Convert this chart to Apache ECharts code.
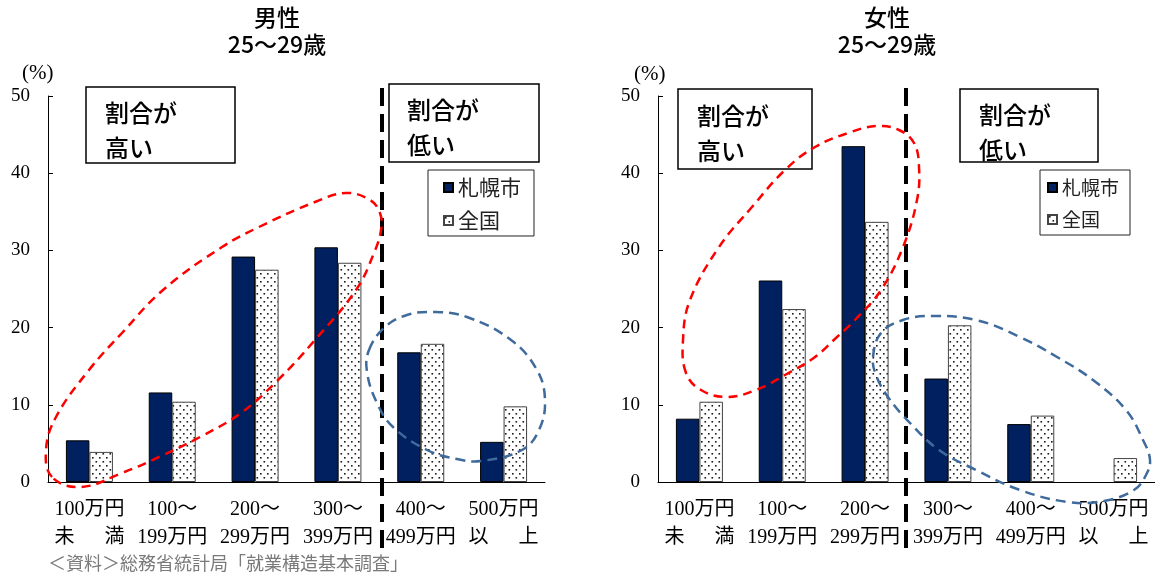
<!DOCTYPE html>
<html>
<head>
<meta charset="utf-8">
<script src="https://cdn.jsdelivr.net/npm/echarts@6/dist/echarts.min.js"></script>
<style>
html,body{margin:0;padding:0;background:#fff;}
#main{width:1155px;height:576px;}
</style>
</head>
<body>
<div id="main"></div>
<script>
// ---- data ----
var categories = ['100万円\n未\u3000\u2002満', '100～\n199万円', '200～\n299万円', '300～\n399万円', '400～\n499万円', '500万円\n以\u3000\u2002上'];
var seriesNames = ['札幌市', '全国'];
var maleSapporo = [5.4, 11.6, 29.2, 30.4, 16.8, 5.2];
var maleZenkoku = [3.9, 10.4, 27.5, 28.4, 17.9, 9.8];
var femaleSapporo = [8.2, 26.1, 43.5, 13.4, 7.5, null];
var femaleZenkoku = [10.4, 22.4, 33.7, 20.3, 8.6, 3.1];
var yTicks = [0, 10, 20, 30, 40, 50];
var titles = ['男性\n25～29歳', '女性\n25～29歳'];
var boxTextHigh = '割合が\n高い';
var boxTextLow = '割合が\n低い';
var sourceText = '＜資料＞総務省統計局「就業構造基本調査」';

// ---- dotted pattern ----
var pc = document.createElement('canvas');
pc.width = 7; pc.height = 8;
var pctx = pc.getContext('2d');
pctx.fillStyle = '#ffffff'; pctx.fillRect(0, 0, 7, 8);
pctx.fillStyle = '#1a1a1a';
pctx.fillRect(1, 1, 1.6, 1.6);
pctx.fillRect(4.5, 5, 1.6, 1.6);
var dotPattern = {image: pc, repeat: 'repeat'};

var serif = "'Liberation Serif','Noto Sans CJK JP',serif";
var sans = "'Noto Sans CJK JP','Noto Sans',sans-serif";
var navy = '#00205F';

var chart = echarts.init(document.getElementById('main'), null, {renderer: 'canvas'});

function xAx(i) {
  return {
    type: 'category', gridIndex: i, data: categories,
    axisTick: {show: false},
    axisLine: {lineStyle: {color: '#000', width: 1}},
    axisLabel: {interval: 0, fontSize: 20, lineHeight: 28, margin: 14, color: '#000', fontFamily: serif}
  };
}
function yAx(i) {
  return {
    type: 'value', gridIndex: i, min: yTicks[0], max: yTicks[yTicks.length - 1], interval: 10,
    axisLine: {show: true, lineStyle: {color: '#000', width: 1}},
    axisTick: {show: true, inside: true, length: 5, lineStyle: {color: '#000'}},
    splitLine: {show: false},
    axisLabel: {fontSize: 19, margin: 18, color: '#000', fontFamily: serif}
  };
}
function barS(name, data, i, isPattern) {
  return {
    name: name, type: 'bar', xAxisIndex: i, yAxisIndex: i, data: data,
    barWidth: 23.5, barGap: '0%',
    itemStyle: isPattern ? {color: dotPattern, borderColor: '#444', borderWidth: 1}
                         : {color: navy, borderColor: '#000', borderWidth: 1}
  };
}

function poly(points, color, dash) {
  return {
    type: 'polygon', z: 100, silent: true,
    shape: {points: points, smooth: 0.4},
    style: {fill: null, stroke: color, lineWidth: 2.5, lineDash: dash}
  };
}
function box(x, y, w, h, text, tx, ty) {
  return [
    {type: 'rect', z: 90, shape: {x: x, y: y, width: w, height: h},
     style: {fill: '#fff', stroke: '#000', lineWidth: 1.5}},
    {type: 'text', z: 91, x: tx, y: ty,
     style: {text: text, font: '500 24px ' + sans, lineHeight: 35, fill: '#000',
             textAlign: 'left', textVerticalAlign: 'middle'}}
  ];
}
function vline(x, y1, y2) {
  return {type: 'line', z: 95, shape: {x1: x, y1: y1, x2: x, y2: y2},
          style: {stroke: '#000', lineWidth: 4, lineDash: [18, 8]}};
}
function txt(x, y, text, font, align, color, lh) {
  return {type: 'text', z: 92, x: x, y: y,
          style: {text: text, font: font, fill: color || '#000', textAlign: align || 'left',
                  textVerticalAlign: 'middle', lineHeight: lh || 0}};
}

var redLeft = [[52,477],[46,450],[56,417],[89,370],[122,333],[163,290],[222,247],[259,227],[315,202],[346,193],[370,200],[380,213],[381,230],[374,253],[356,290],[315,340],[278,380],[241,413],[200,437],[159,457],[122,473],[81,487]];
var blueLeft = [[369,350],[385,327],[407,315],[433,312],[467,317],[511,340],[537,370],[545,400],[539,430],[522,450],[481,461],[457,459],[427,450],[393,427],[377,403],[367,372]];
var redRight = [[686,373],[683,340],[690,300],[719,247],[752,207],[785,170],[815,147],[851,132],[877,126],[899,130],[914,143],[919,167],[917,200],[903,247],[881,290],[855,320],[837,337],[815,357],[785,375],[756,390],[727,397],[701,390]];
var blueRight = [[873,357],[881,333],[903,320],[932,316],[976,320],[1020,337],[1057,357],[1093,380],[1126,410],[1143,440],[1150,460],[1146,475],[1134,490],[1104,501],[1068,502],[1020,490],[976,470],[939,450],[910,423],[888,397],[876,375]];

var graphics = [];
graphics.push(txt(277, 30.5, titles[0], '500 23px ' + sans, 'center', '#000', 27));
graphics.push(txt(887, 30.5, titles[1], '500 23px ' + sans, 'center', '#000', 27));
graphics.push(txt(22, 73, '(%)', '21px ' + serif, 'left'));
graphics.push(txt(634, 74, '(%)', '21px ' + serif, 'left'));
graphics = graphics.concat(box(86, 87, 149, 76, boxTextHigh, 105, 130.5));
graphics = graphics.concat(box(389, 84, 150, 78, boxTextLow, 407, 127.5));
graphics = graphics.concat(box(678, 89, 134, 80, boxTextHigh, 697, 133.5));
graphics = graphics.concat(box(960, 89, 138, 73, boxTextLow, 979, 132.5));
graphics.push(vline(382, 88, 556));
graphics.push(vline(906, 88, 554));
graphics.push(poly(redLeft, '#FF0000', [9, 6]));
graphics.push(poly(blueLeft, '#3F6A9C', [10, 6]));
graphics.push(poly(redRight, '#FF0000', [9, 6]));
graphics.push(poly(blueRight, '#3F6A9C', [10, 6]));
graphics.push(txt(48, 565, sourceText, '18px ' + serif, 'left', '#7a7a7a'));

chart.setOption({
  animation: false,
  backgroundColor: '#fff',
  grid: [
    {left: 48, top: 96, width: 497, height: 386},
    {left: 658, top: 96, width: 497, height: 386}
  ],
  xAxis: [xAx(0), xAx(1)],
  yAxis: [yAx(0), yAx(1)],
  legend: [
    {left: 428, top: 170, orient: 'vertical', data: seriesNames, icon: 'rect',
     itemWidth: 9, itemHeight: 9, itemGap: 12, padding: [7, 13, 5, 15],
     borderColor: '#222', borderWidth: 1, selectedMode: false,
     textStyle: {fontSize: 21, fontFamily: sans, color: '#222'}},
    {left: 1040, top: 170, orient: 'vertical', data: seriesNames, icon: 'rect',
     itemWidth: 9, itemHeight: 9, itemGap: 13, padding: [8, 11, 6, 7],
     borderColor: '#222', borderWidth: 1, selectedMode: false,
     textStyle: {fontSize: 19, fontFamily: sans, color: '#222'}}
  ],
  series: [
    barS(seriesNames[0], maleSapporo, 0, false),
    barS(seriesNames[1], maleZenkoku, 0, true),
    barS(seriesNames[0], femaleSapporo, 1, false),
    barS(seriesNames[1], femaleZenkoku, 1, true)
  ],
  graphic: graphics
});
</script>
</body>
</html>
